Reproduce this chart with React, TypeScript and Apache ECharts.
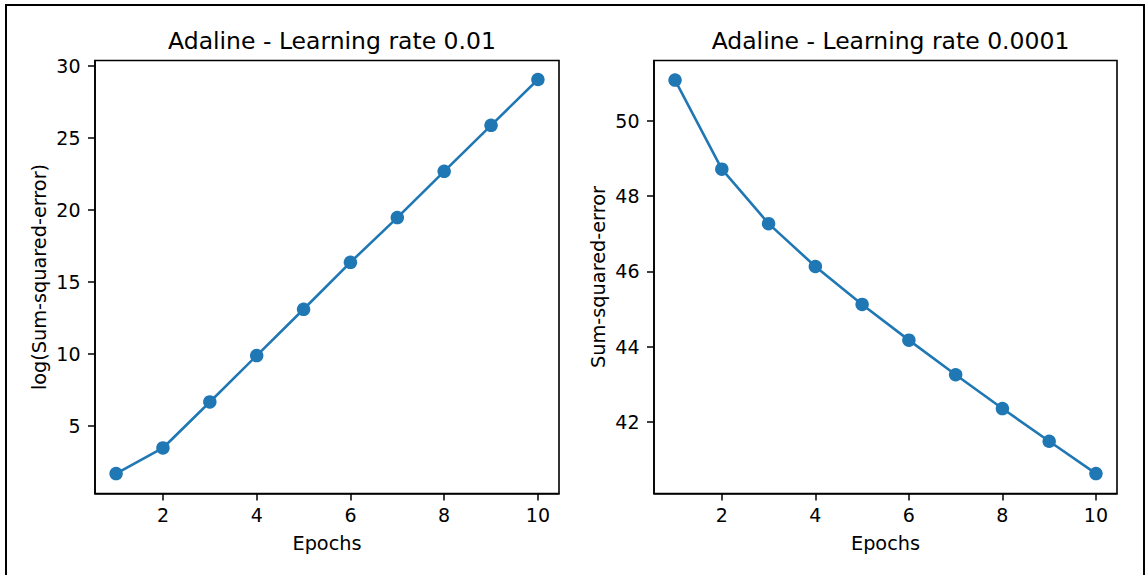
import React, { useEffect, useRef } from "react";
import * as echarts from "echarts";

const epochs = [1, 2, 3, 4, 5, 6, 7, 8, 9, 10];
const sseRate001 = [1.69, 3.47, 6.66, 9.88, 13.09, 16.35, 19.45, 22.66, 25.85, 29.03];
const sseRate00001 = [51.09, 48.72, 47.27, 46.13, 45.12, 44.17, 43.25, 42.35, 41.48, 40.62];
const xTicks = [2, 4, 6, 8, 10];
const yTicksLeft = [5, 10, 15, 20, 25, 30];
const yTicksRight = [42, 44, 46, 48, 50];
const titles = ["Adaline - Learning rate 0.01", "Adaline - Learning rate 0.0001"];
const yNames = ["log(Sum-squared-error)", "Sum-squared-error"];
const xName = "Epochs";

const FONT = "DejaVu Sans";
const BLUE = "#1f77b4";

export default function App() {
  const ref = useRef<HTMLDivElement>(null);
  useEffect(() => {
    if (!ref.current) return;
    const chart = echarts.init(ref.current, undefined, { renderer: "svg" });
    const grids = [
      { left: 95, top: 60.5, width: 464, height: 433 },
      { left: 654, top: 60.5, width: 463, height: 433 },
    ];
    const axisLabel = (vals: number[]) => ({
      customValues: vals,
      color: "#000",
      fontSize: 19,
      fontFamily: FONT,
    });
    const axisTick = (vals: number[]) => ({
      show: true,
      customValues: vals,
      length: 7,
      lineStyle: { color: "#000", width: 1.5 },
    });
    const xAxes = [0, 1].map((i) => ({
      type: "value",
      gridIndex: i,
      min: 0.55,
      max: 10.45,
      name: xName,
      nameLocation: "middle",
      nameGap: 40,
      nameTextStyle: { color: "#000", fontSize: 19.3, fontFamily: FONT },
      axisLine: { show: true, lineStyle: { color: "#000", width: 1.6 } },
      axisTick: axisTick(xTicks),
      axisLabel: { ...axisLabel(xTicks), margin: 11.5 },
      splitLine: { show: false },
    }));
    const yRanges = [
      [0.31, 30.35],
      [40.09, 51.61],
    ];
    const yTickSets = [yTicksLeft, yTicksRight];
    const yAxes = [0, 1].map((i) => ({
      type: "value",
      gridIndex: i,
      min: yRanges[i][0],
      max: yRanges[i][1],
      name: yNames[i],
      nameLocation: "middle",
      nameRotate: 90,
      nameGap: 46,
      nameTextStyle: { color: "#000", fontSize: 19.3, fontFamily: FONT },
      axisLine: { show: true, lineStyle: { color: "#000", width: 1.6 } },
      axisTick: axisTick(yTickSets[i]),
      axisLabel: { ...axisLabel(yTickSets[i]), margin: 14.5 },
      splitLine: { show: false },
    }));
    const dataSets = [sseRate001, sseRate00001];
    chart.setOption({
      animation: false,
      backgroundColor: "#fff",
      title: [0, 1].map((i) => ({
        text: titles[i],
        left: grids[i].left + grids[i].width / 2,
        top: 23.5,
        textAlign: "center",
        textStyle: { color: "#000", fontSize: 23.5, fontWeight: "normal", fontFamily: FONT },
      })),
      grid: grids.map((g) => ({
        ...g,
        show: true,
        borderColor: "#000",
        borderWidth: 1.6,
        backgroundColor: "transparent",
      })),
      xAxis: xAxes,
      yAxis: yAxes,
      series: [0, 1].map((i) => ({
        type: "line",
        xAxisIndex: i,
        yAxisIndex: i,
        data: epochs.map((e, k) => [e, dataSets[i][k]]),
        symbol: "circle",
        symbolSize: 13.5,
        showSymbol: true,
        lineStyle: { color: BLUE, width: 2.6 },
        itemStyle: { color: BLUE },
      })),
      graphic: [
        {
          type: "rect",
          shape: { x: 6, y: 5, width: 1138, height: 620 },
          style: { fill: "none", stroke: "#000", lineWidth: 2 },
          silent: true,
        },
      ],
    });
    return () => chart.dispose();
  }, []);
  return (
    <div
      ref={ref}
      style={{ position: "fixed", left: 0, top: 0, width: 1147, height: 575, background: "#fff" }}
    />
  );
}
